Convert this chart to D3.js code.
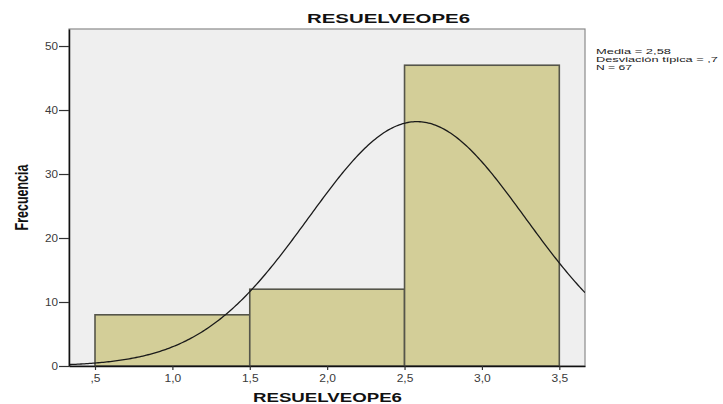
<!DOCTYPE html>
<html>
<head>
<meta charset="utf-8">
<script src="https://cdn.jsdelivr.net/npm/d3@7/dist/d3.min.js"></script>
<style>
  html, body { margin: 0; padding: 0; background: #ffffff; }
  svg { display: block; }
  text { font-family: "Liberation Sans", Arial, sans-serif; }
</style>
</head>
<body>
<svg id="chart" width="723" height="404"></svg>
<script>
// Histogram bins (class limits) and their counts
const binStarts = [0.5, 1.5, 2.5];
const binEnds = [1.5, 2.5, 3.5];
const frequencies = [8, 12, 47];

// Axis ticks
const yTicks = [0, 10, 20, 30, 40, 50];
const xTicks = [0.5, 1.0, 1.5, 2.0, 2.5, 3.0, 3.5];
const xTickLabels = [",5", "1,0", "1,5", "2,0", "2,5", "3,0", "3,5"];

// Summary statistics used for the fitted normal curve
const mean = 2.58;
const stdDev = 0.7;
const count = 67;
const binWidth = 1;
const statsLabels = ["Media = 2,58", "Desviación típica = ,7", "N = 67"];

const chartTitle = "RESUELVEOPE6";
const xTitle = "RESUELVEOPE6";
const yTitle = "Frecuencia";

const svg = d3.select("#chart");
const plot = { left: 69, right: 585, top: 29, bottom: 366 };

const x = d3.scaleLinear().domain([0.332, 3.666]).range([plot.left, plot.right]);
const y = d3.scaleLinear().domain([0, 52.66]).range([plot.bottom, plot.top]);

// Stretch a text node horizontally by a factor
function widen(sel, factor) {
  sel.each(function () {
    const w = this.getComputedTextLength();
    d3.select(this).attr("textLength", w * factor).attr("lengthAdjust", "spacingAndGlyphs");
  });
}
function fitWidth(sel, width) {
  sel.attr("textLength", width).attr("lengthAdjust", "spacingAndGlyphs");
}

// Plot background
svg.append("rect")
  .attr("x", plot.left).attr("y", plot.top)
  .attr("width", plot.right - plot.left).attr("height", plot.bottom - plot.top)
  .attr("fill", "#efefef").attr("stroke", "#8a8a8a").attr("stroke-width", 1.2);

// Bars
const bins = frequencies.map((f, i) => ({ x0: binStarts[i], x1: binEnds[i], f }));
svg.append("g").selectAll("rect").data(bins).join("rect")
  .attr("x", d => x(d.x0))
  .attr("y", d => y(d.f))
  .attr("width", d => x(d.x1) - x(d.x0))
  .attr("height", d => y(0) - y(d.f))
  .attr("fill", "#d3ce98")
  .attr("stroke", "#55554a")
  .attr("stroke-width", 1.6);

// Fitted normal curve
const defs = svg.append("defs");
defs.append("clipPath").attr("id", "plotClip").append("rect")
  .attr("x", plot.left).attr("y", plot.top)
  .attr("width", plot.right - plot.left).attr("height", plot.bottom - plot.top);

const [d0, d1] = x.domain();
const curvePts = d3.range(0, 301).map(i => {
  const v = d0 + (d1 - d0) * i / 300;
  const z = (v - mean) / stdDev;
  return [v, count * binWidth * Math.exp(-0.5 * z * z) / (stdDev * Math.sqrt(2 * Math.PI))];
});
svg.append("path")
  .datum(curvePts)
  .attr("clip-path", "url(#plotClip)")
  .attr("fill", "none")
  .attr("stroke", "#1a1a1a")
  .attr("stroke-width", 1.3)
  .attr("d", d3.line().x(d => x(d[0])).y(d => y(d[1])));

// Axes
const yAxis = svg.append("g")
  .attr("transform", `translate(${plot.left},0)`)
  .call(d3.axisLeft(y).tickValues(yTicks).tickFormat(d3.format("d")).tickSize(10).tickSizeOuter(0).tickPadding(1));
const xAxis = svg.append("g")
  .attr("transform", `translate(0,${plot.bottom})`)
  .call(d3.axisBottom(x).tickValues(xTicks).tickFormat((d, i) => xTickLabels[i]).tickSize(4).tickSizeOuter(0).tickPadding(5));

[yAxis, xAxis].forEach(a => {
  a.select(".domain").attr("stroke", "#111").attr("stroke-width", 1.5);
  a.selectAll(".tick line").attr("stroke", "#333").attr("stroke-width", 1.2);
  a.selectAll(".tick text").attr("font-size", 10).attr("fill", "#3a3a3a")
    .style("font-family", "'Liberation Sans', Arial, sans-serif");
});
widen(yAxis.selectAll(".tick text"), 1.17);
widen(xAxis.selectAll(".tick text"), 1.2);

// Titles
svg.append("text")
  .attr("x", 388.5).attr("y", 22.5)
  .attr("text-anchor", "middle")
  .attr("font-size", 13).attr("font-weight", "bold").attr("fill", "#111")
  .text(chartTitle)
  .call(fitWidth, 163);

svg.append("text")
  .attr("x", 327.5).attr("y", 402)
  .attr("text-anchor", "middle")
  .attr("font-size", 12.5).attr("font-weight", "bold").attr("fill", "#111")
  .text(xTitle)
  .call(fitWidth, 149);

svg.append("text")
  .attr("transform", "translate(28,197.5) scale(1.45,1) rotate(-90)")
  .attr("text-anchor", "middle")
  .attr("font-size", 12.5).attr("font-weight", "bold").attr("fill", "#111")
  .text(yTitle);

// Statistics block
const statWidths = [75, 122, 36];
svg.append("g").selectAll("text").data(statsLabels).join("text")
  .attr("x", 596)
  .attr("y", (d, i) => 53.8 + i * 7.9)
  .attr("font-size", 7)
  .attr("fill", "#222")
  .text(d => d)
  .each(function (d, i) { fitWidth(d3.select(this), statWidths[i]); });
</script>
</body>
</html>
